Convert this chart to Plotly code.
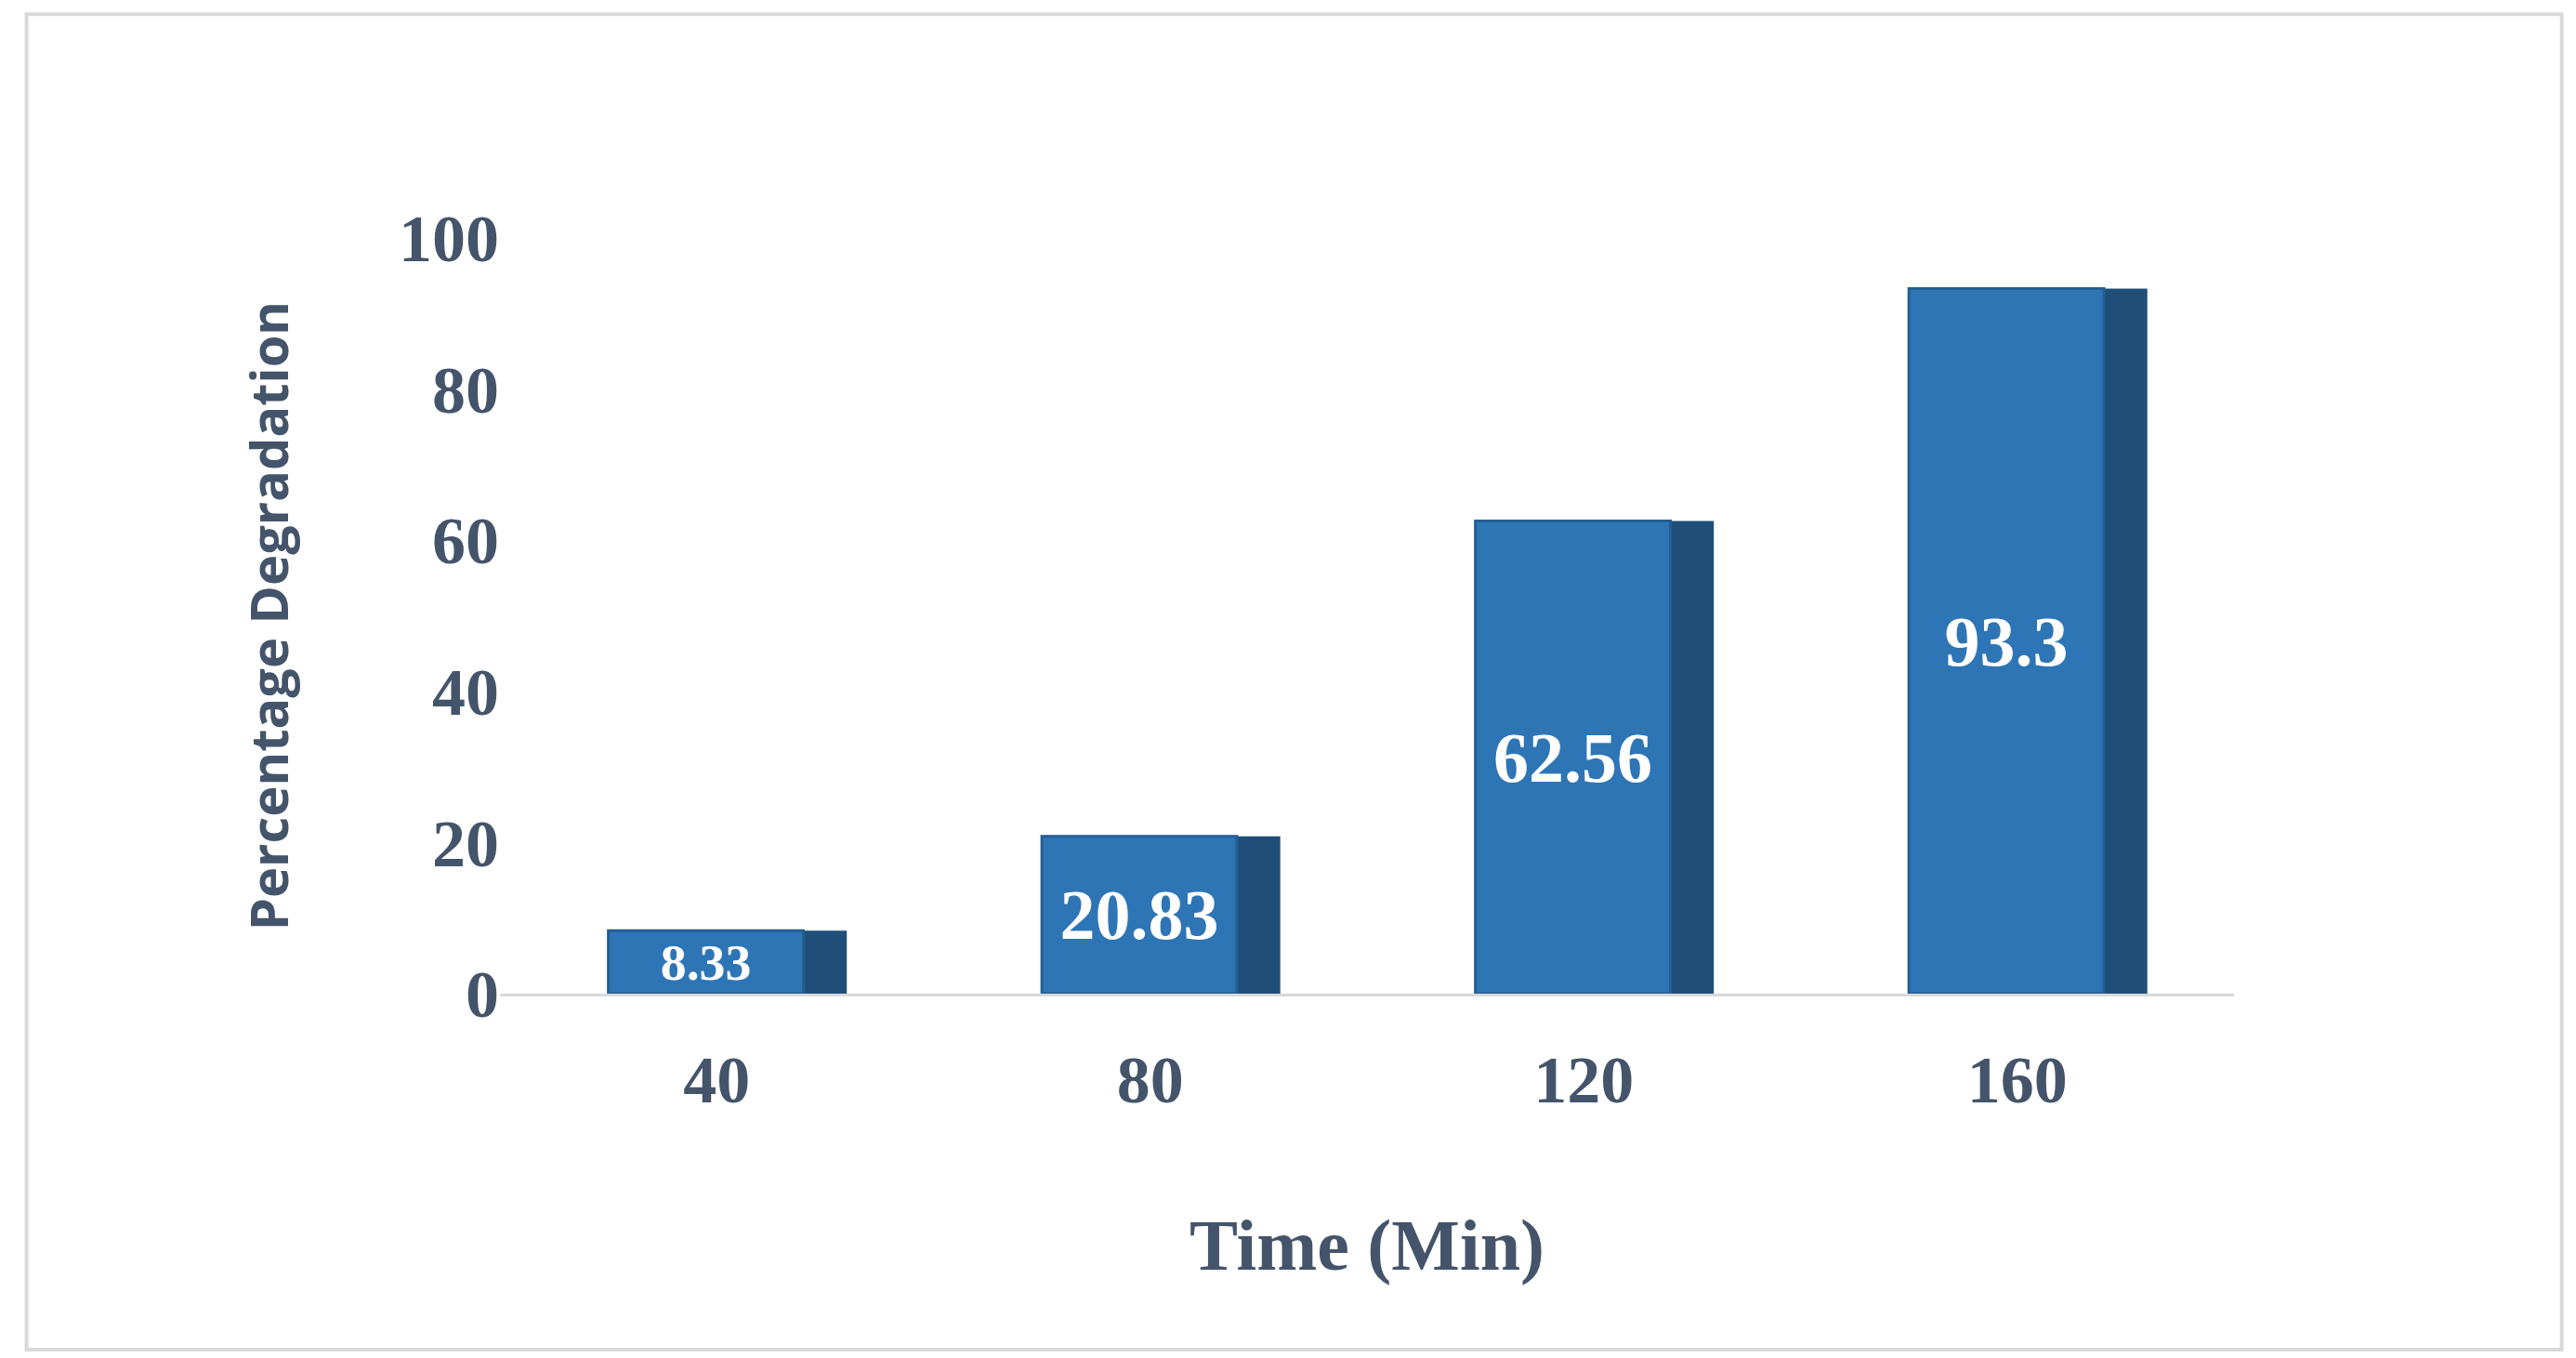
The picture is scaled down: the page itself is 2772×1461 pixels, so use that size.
import plotly.graph_objects as go

times = ["40", "80", "120", "160"]
degradation = [8.33, 20.83, 62.56, 93.3]
y_ticks = [0, 20, 40, 60, 80, 100]

serif = "Liberation Serif"
ink = "#44546A"

fig = go.Figure()

# darker "depth" bar behind, shifted right, for a rough 3D look
fig.add_trace(go.Bar(
    x=times, y=degradation,
    marker=dict(color="#1F4E79", line=dict(width=0)),
    width=0.45, offset=-0.15,
    hoverinfo="skip",
))
fig.add_trace(go.Bar(
    x=times, y=degradation,
    marker=dict(color="#2E75B6", line=dict(color="#245E93", width=3)),
    width=0.45, offset=-0.25,
    text=[f"{v:g}" for v in degradation],
    textposition="inside", insidetextanchor="middle",
    textfont=dict(family=serif, size=76, color="white", weight="bold"),
))

fig.update_layout(
    width=2772, height=1461,
    barmode="overlay", showlegend=False,
    plot_bgcolor="white", paper_bgcolor="white",
    margin=dict(l=530, r=376, t=248, b=400),
    font=dict(family=serif, color=ink),
    xaxis=dict(
        showline=True, linecolor="#D9D9D9", linewidth=3,
        ticks="", ticklabelstandoff=28,
        tickfont=dict(family=serif, size=72, color=ink, weight="bold"),
        title=dict(text="Time (Min)", standoff=110,
                   font=dict(family=serif, size=78, color=ink, weight="bold")),
    ),
    yaxis=dict(
        range=[0, 100], tickvals=y_ticks, showgrid=False, showline=False,
        zeroline=False, ticks="",
        tickfont=dict(family=serif, size=72, color=ink, weight="bold"),
        title=dict(text="Percentage Degradation", standoff=100,
                   font=dict(family="Open Sans", size=56, color=ink, weight="bold")),
    ),
    shapes=[dict(type="rect", xref="paper", yref="paper",
                 x0=-0.273, x1=1.189, y0=-0.471, y1=1.296,
                 line=dict(color="#D9D9D9", width=4))],
)

fig.write_html("out.html")
